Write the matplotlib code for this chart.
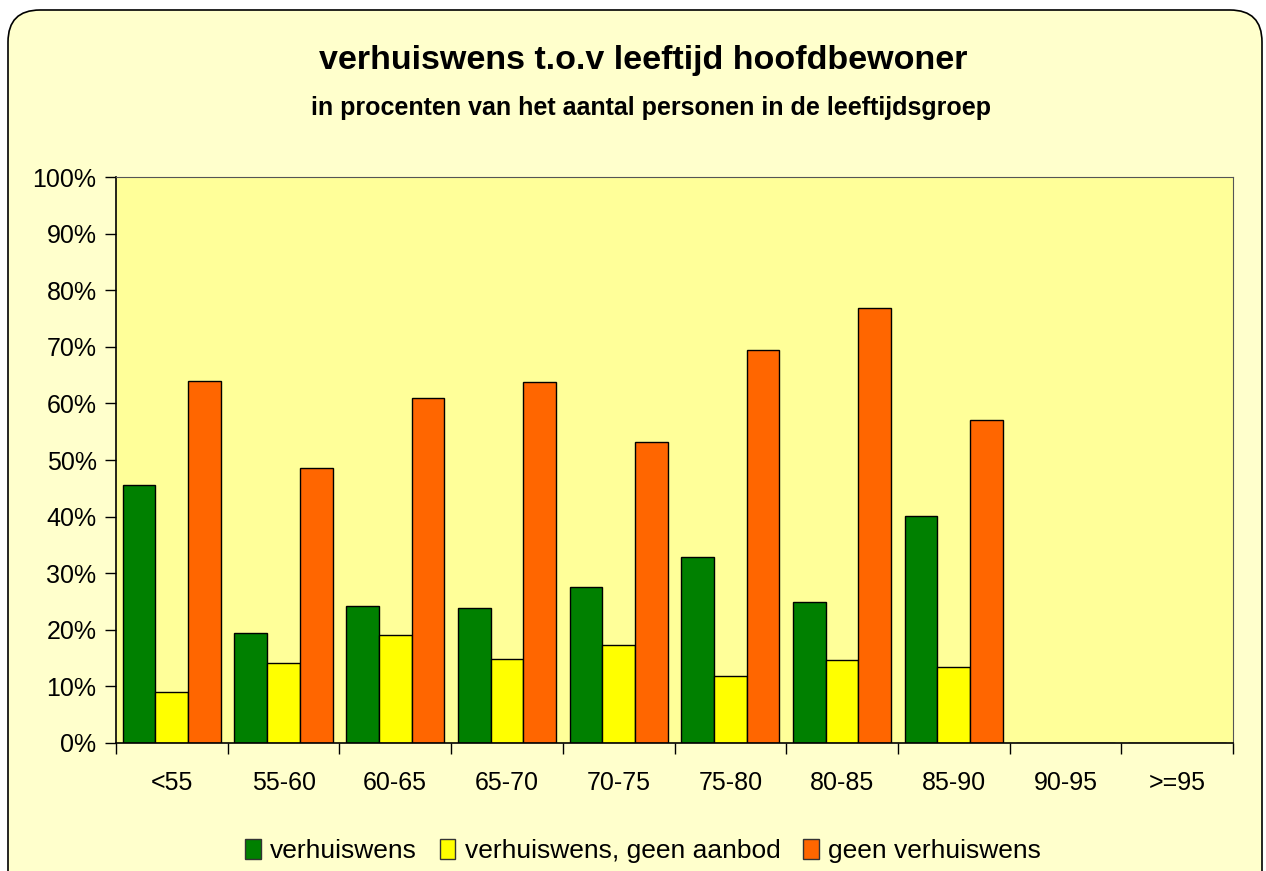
import numpy as np
import matplotlib
matplotlib.use('Agg')
import matplotlib.pyplot as plt
from matplotlib.patches import FancyBboxPatch, Patch
from matplotlib.ticker import FuncFormatter, FixedLocator

plt.rcParams['font.family'] = ['Liberation Sans', 'DejaVu Sans']

# data (percent of persons in age group)
age_groups = ['<55', '55-60', '60-65', '65-70', '70-75', '75-80', '80-85', '85-90', '90-95', '>=95']
verhuiswens = [45.5, 19.4, 24.2, 23.8, 27.6, 32.8, 24.9, 40.1, 0, 0]
geen_aanbod = [9.0, 14.2, 19.1, 14.9, 17.3, 11.8, 14.6, 13.4, 0, 0]
geen_verhuiswens = [63.9, 48.6, 61.0, 63.7, 53.1, 69.4, 76.8, 57.0, 0, 0]
series_names = ['verhuiswens', 'verhuiswens, geen aanbod', 'geen verhuiswens']
colors = ['#008000', '#FFFF00', '#FF6600']

W, H = 1266, 871
fig = plt.figure(figsize=(W / 100, H / 100), dpi=100)
fig.patch.set_facecolor('white')

# background with rounded border, in pixel coordinates
bg = fig.add_axes([0, 0, 1, 1], zorder=0)
bg.set_xlim(0, W)
bg.set_ylim(H, 0)
bg.axis('off')
bg.add_patch(FancyBboxPatch((8, 10), 1254, 900, boxstyle='round,pad=0,rounding_size=32',
                            facecolor='#FFFFCC', edgecolor='black', linewidth=1.2))

# plot area: left 116, right 1233, top 177, bottom 743 (pixels)
ax = fig.add_axes([116 / W, 1 - 743 / H, (1233 - 116) / W, (743 - 177) / H], zorder=1)
ax.set_facecolor('#FFFF99')

x = np.arange(len(age_groups))
bw = 0.293
for i, (vals, c, name) in enumerate(zip([verhuiswens, geen_aanbod, geen_verhuiswens], colors, series_names)):
    ax.bar(x + (i - 1) * bw, vals, width=bw, color=c, edgecolor='black', linewidth=1.0, label=name)

ax.set_xlim(-0.5, len(age_groups) - 0.5)
ax.set_ylim(0, 100)
ax.yaxis.set_major_locator(FixedLocator(np.arange(0, 101, 10)))
ax.yaxis.set_major_formatter(FuncFormatter(lambda v, p: '{:.0f}%'.format(v)))
ax.set_xticks(np.arange(len(age_groups) + 1) - 0.5)
ax.set_xticklabels([])
ax.set_xticks(x, minor=True)
ax.set_xticklabels(age_groups, minor=True)
ax.tick_params(axis='x', which='minor', length=0, pad=20, labelsize=18)
ax.tick_params(axis='x', which='major', length=8, width=1, direction='out')
ax.tick_params(axis='y', length=8, width=1, direction='out', labelsize=18, pad=6)

for s in ['left', 'bottom']:
    ax.spines[s].set_color('black')
    ax.spines[s].set_linewidth(1.2)
for s in ['top', 'right']:
    ax.spines[s].set_color('#555555')
    ax.spines[s].set_linewidth(0.8)

fig.text(643 / W, 1 - 60 / H, 'verhuiswens t.o.v leeftijd hoofdbewoner', ha='center', va='center',
         fontsize=24.5, fontweight='bold')
fig.text(651 / W, 1 - 108 / H, 'in procenten van het aantal personen in de leeftijdsgroep', ha='center',
         va='center', fontsize=18, fontweight='bold')

handles = [Patch(facecolor=c, edgecolor='#333333', label=n) for c, n in zip(colors, series_names)]
fig.legend(handles=handles, loc='center', bbox_to_anchor=(643 / W, 1 - 851 / H), ncol=3, frameon=False,
           fontsize=19, handlelength=0.6, handleheight=0.8, handletextpad=0.35, columnspacing=0.85)

fig.savefig('out.png', dpi=100, facecolor=fig.get_facecolor())
